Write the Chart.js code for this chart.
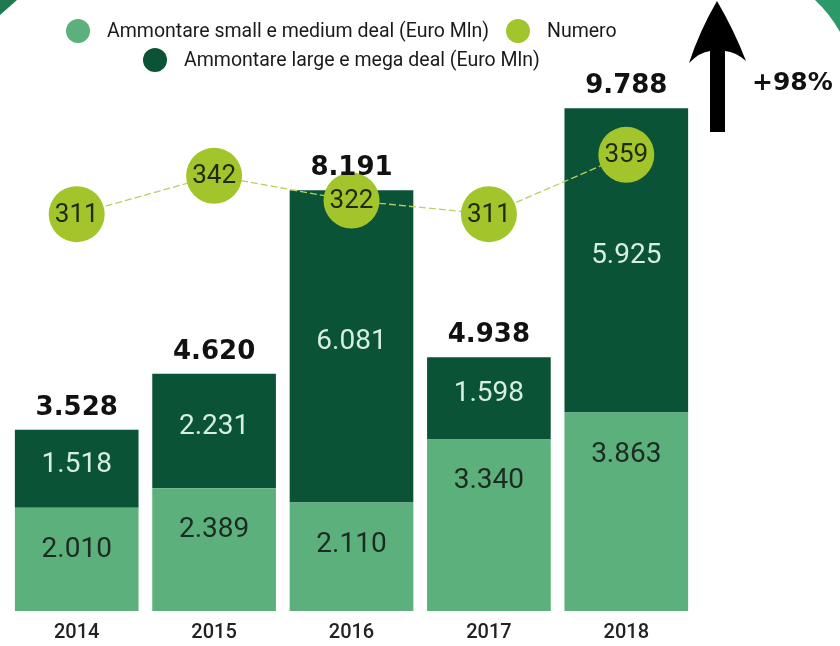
<!DOCTYPE html>
<html><head><meta charset="utf-8">
<script src="https://cdn.jsdelivr.net/npm/chart.js@4.4.1/dist/chart.umd.min.js"></script>
<style>html,body{margin:0;padding:0;background:#fff;}#wrap{width:840px;height:646px;position:relative}</style>
</head><body><div id="wrap"><canvas id="c" width="840" height="646"></canvas></div>
<script>
const categories = ['2014', '2015', '2016', '2017', '2018'];
const smallMedium = [2010, 2389, 2110, 3340, 3863];
const largeMega = [1518, 2231, 6081, 1598, 5925];
const totals = [3528, 4620, 8191, 4938, 9788];
const numero = [311, 342, 322, 311, 359];
const seriesLabels = ['Ammontare small e medium deal (Euro Mln)', 'Ammontare large e mega deal (Euro Mln)', 'Numero'];
const growthLabel = '+98%';

const C_LIGHT = '#5cb07c', C_DARK = '#0a5336', C_NUM = '#a2c52c';
const fmt = v => String(v).replace(/\B(?=(\d{3})+(?!\d))/g, '.');

const decor = {
  id: 'decor',
  beforeDraw(chart) {
    const ctx = chart.ctx;
    ctx.save();
    ctx.fillStyle = '#fff';
    ctx.fillRect(0, 0, chart.width, chart.height);
    ctx.fillStyle = '#2b9a68';
    ctx.beginPath(); ctx.moveTo(815, 0); ctx.quadraticCurveTo(830, 14, 840, 32); ctx.lineTo(840, 0); ctx.closePath(); ctx.fill();
    ctx.fillStyle = '#1f7a50';
    ctx.beginPath(); ctx.moveTo(0, 0); ctx.lineTo(17, 0); ctx.quadraticCurveTo(8, 8, 0, 15); ctx.closePath(); ctx.fill();
    ctx.restore();
  },
  afterDatasetsDraw(chart) {
    const ctx = chart.ctx;
    const m0 = chart.getDatasetMeta(0), m1 = chart.getDatasetMeta(1), m2 = chart.getDatasetMeta(2);
    ctx.save();
    ctx.textAlign = 'center';
    ctx.font = '28px Roboto';
    ctx.textBaseline = 'middle';
    ctx.fillStyle = '#1c2b22';
    m0.data.forEach((b, i) => ctx.fillText(fmt(smallMedium[i]), b.x, b.y + 42));
    ctx.fillStyle = '#d7eee2';
    m1.data.forEach((b, i) => ctx.fillText(fmt(largeMega[i]), b.x, (b.y + b.base) / 2 - 4));
    ctx.font = 'bold 26px "DejaVu Sans"';
    ctx.textBaseline = 'alphabetic';
    ctx.fillStyle = '#111';
    m1.data.forEach((b, i) => ctx.fillText(fmt(totals[i]), b.x, b.y - 15));
    ctx.font = '26px Roboto';
    ctx.textBaseline = 'middle';
    ctx.fillStyle = '#1e2a0c';
    m2.data.forEach((p, i) => ctx.fillText(String(numero[i]), p.x, p.y + 1));
    ctx.restore();
  },
  afterDraw(chart) {
    const ctx = chart.ctx;
    const ds = chart.data.datasets;
    ctx.save();
    const items = [
      {d: ds[0], x: 78, y: 31},
      {d: ds[2], x: 518, y: 31},
      {d: ds[1], x: 155, y: 60}
    ];
    ctx.font = '19.5px Roboto';
    ctx.textBaseline = 'middle';
    ctx.textAlign = 'left';
    items.forEach(it => {
      ctx.fillStyle = it.d.type === 'line' ? it.d.pointBackgroundColor : it.d.backgroundColor;
      ctx.beginPath(); ctx.arc(it.x, it.y, 12, 0, Math.PI * 2); ctx.fill();
      ctx.fillStyle = '#1a1a1a';
      ctx.fillText(it.d.label, it.x + 29, it.y + 1);
    });
    ctx.fillStyle = '#000';
    ctx.beginPath();
    ctx.moveTo(717, 1);
    ctx.quadraticCurveTo(700, 30, 689, 63);
    ctx.quadraticCurveTo(700, 52, 710, 51);
    ctx.lineTo(710, 132);
    ctx.lineTo(725, 132);
    ctx.lineTo(725, 51);
    ctx.quadraticCurveTo(736, 52, 746, 61);
    ctx.quadraticCurveTo(734, 30, 717, 1);
    ctx.closePath();
    ctx.fill();
    ctx.font = 'bold 25px "DejaVu Sans"';
    ctx.textBaseline = 'alphabetic';
    ctx.fillStyle = '#111';
    ctx.fillText(growthLabel, 752, 90);
    ctx.restore();
  }
};

new Chart(document.getElementById('c'), {
  type: 'bar',
  data: {
    labels: categories,
    datasets: [
      {label: seriesLabels[0], data: smallMedium, backgroundColor: C_LIGHT, stack: 's', order: 2, barPercentage: 0.9, categoryPercentage: 1, yAxisID: 'y'},
      {label: seriesLabels[1], data: largeMega, backgroundColor: C_DARK, stack: 's', order: 2, barPercentage: 0.9, categoryPercentage: 1, yAxisID: 'y'},
      {type: 'line', label: seriesLabels[2], data: numero, yAxisID: 'y2', borderColor: '#b8d060', borderWidth: 1.3, borderDash: [7, 3],
       pointRadius: 28, pointHoverRadius: 28, pointBackgroundColor: C_NUM, pointBorderWidth: 0, order: 1, tension: 0}
    ]
  },
  options: {
    responsive: false,
    animation: false,
    layout: {autoPadding: false, padding: {top: 46, left: 8, right: 145, bottom: -9}},
    plugins: {legend: {display: false}, tooltip: {enabled: false}},
    scales: {
      x: {stacked: true, grid: {display: false, drawTicks: false}, border: {display: false},
          ticks: {color: '#222', padding: 10, font: {family: 'Roboto', size: 20, weight: '500'}}},
      y: {stacked: true, display: false, min: 0, max: 11000},
      y2: {display: false, min: -10, max: 447}
    }
  },
  plugins: [decor]
});
</script></body></html>
